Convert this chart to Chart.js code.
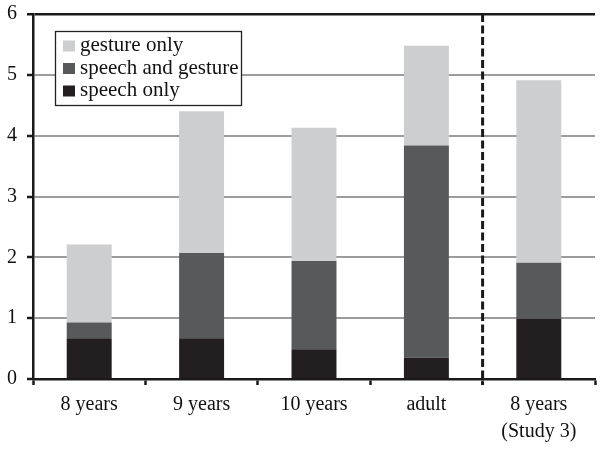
<!DOCTYPE html>
<html>
<head>
<meta charset="utf-8">
<script src="https://cdn.jsdelivr.net/npm/chart.js@4/dist/chart.umd.min.js"></script>
<style>
html,body{margin:0;padding:0;background:#fff;}
#wrap{width:604px;height:449px;position:relative;}
</style>
</head>
<body>
<div id="wrap"><canvas id="c" width="604" height="449"></canvas></div>
<script>
const categories = [['8 years'], ['9 years'], ['10 years'], ['adult'], ['8 years', '(Study 3)']];
const speechOnly = [0.67, 0.67, 0.49, 0.35, 0.99];
const speechAndGesture = [0.26, 1.40, 1.45, 3.49, 0.92];
const gestureOnly = [1.28, 2.33, 2.19, 1.64, 3.00];
const yTicks = [0, 1, 2, 3, 4, 5, 6];
const dividerAfterIndex = 3;

const FONT = '"Liberation Serif", "Times New Roman", serif';

const customLegend = {
  id: 'customLegend',
  afterDraw(chart) {
    const ctx = chart.ctx;
    const x0 = 55, y0 = 31, w = 186, h = 74;
    ctx.save();
    ctx.fillStyle = '#fff';
    ctx.fillRect(x0, y0, w, h);
    ctx.strokeStyle = '#222';
    ctx.lineWidth = 1.3;
    ctx.strokeRect(x0 + 0.5, y0 + 0.5, w, h);
    const items = chart.data.datasets.slice().reverse();
    ctx.font = '21px ' + FONT;
    ctx.textBaseline = 'middle';
    items.forEach((ds, i) => {
      const cy = y0 + 14.5 + i * 22.5;
      ctx.fillStyle = ds.backgroundColor;
      ctx.fillRect(63, cy - 5, 12, 11);
      ctx.fillStyle = '#111';
      ctx.fillText(ds.label, 80, cy);
    });
    ctx.restore();
  }
};

const divider = {
  id: 'divider',
  afterDatasetsDraw(chart) {
    const xs = chart.scales.x, ys = chart.scales.y;
    const x = (xs.getPixelForValue(dividerAfterIndex) + xs.getPixelForValue(dividerAfterIndex + 1)) / 2;
    const ctx = chart.ctx;
    ctx.save();
    ctx.strokeStyle = '#1a1a1a';
    ctx.lineWidth = 3;
    ctx.setLineDash([8, 3.5]);
    ctx.beginPath();
    ctx.moveTo(x, ys.top);
    ctx.lineTo(x, ys.bottom + 6);
    ctx.stroke();
    ctx.restore();
  }
};

new Chart(document.getElementById('c'), {
  type: 'bar',
  data: {
    labels: categories,
    datasets: [
      { label: 'speech only', data: speechOnly, backgroundColor: '#231f20' },
      { label: 'speech and gesture', data: speechAndGesture, backgroundColor: '#58595b' },
      { label: 'gesture only', data: gestureOnly, backgroundColor: '#cdcecf' }
    ]
  },
  options: {
    responsive: false,
    animation: false,
    devicePixelRatio: 1,
    layout: { padding: { left: 0, right: 9, top: 14, bottom: 0 } },
    datasets: { bar: { barPercentage: 0.4, categoryPercentage: 1.0, borderWidth: 0 } },
    plugins: { legend: { display: false }, tooltip: { enabled: false } },
    scales: {
      x: {
        stacked: true,
        afterFit(scale) { scale.height = 70; scale.paddingLeft = 0; scale.paddingRight = 0; },
        grid: { offset: true, drawOnChartArea: false, drawTicks: true, tickLength: 6, tickColor: '#1a1a1a', tickWidth: 2.5 },
        border: { color: '#1a1a1a', width: 2.5 },
        ticks: { color: '#111', font: { family: FONT, size: 20, lineHeight: 1.35 }, padding: 6, maxRotation: 0, autoSkip: false }
      },
      y: {
        stacked: true,
        min: 0, max: 6,
        afterFit(scale) { scale.width = 33; scale.paddingTop = 0; scale.paddingBottom = 0; },
        afterBuildTicks(scale) { scale.ticks = yTicks.map(v => ({ value: v })); },
        grid: {
          color: (c) => (c.tick && c.tick.value === 6) ? '#1a1a1a' : '#9c9c9c',
          lineWidth: (c) => (c.tick && c.tick.value === 6) ? 2.5 : 2,
          drawTicks: true, tickLength: 6, tickColor: '#1a1a1a', tickWidth: 2.5
        },
        border: { color: '#1a1a1a', width: 2.5 },
        ticks: { color: '#111', font: { family: FONT, size: 20 }, padding: 10, stepSize: 1 }
      }
    }
  },
  plugins: [divider, customLegend]
});
</script>
</body>
</html>
